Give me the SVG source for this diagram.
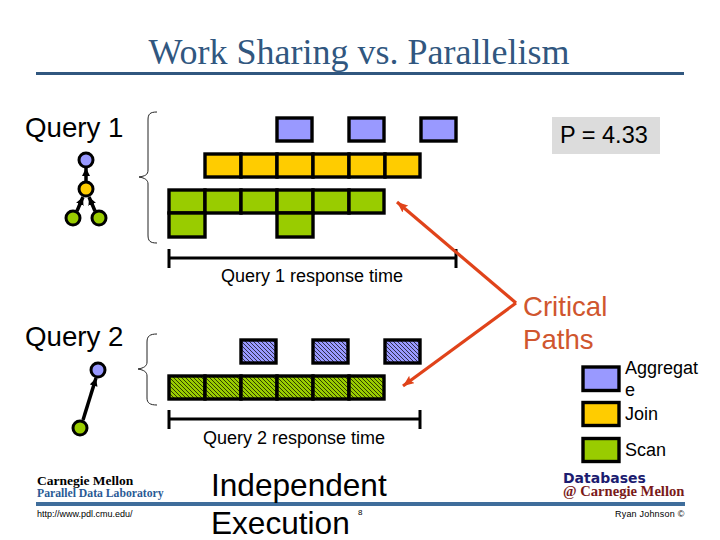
<svg xmlns="http://www.w3.org/2000/svg" width="720" height="540" viewBox="0 0 720 540">
<style>
.s{font-family:"Liberation Sans",Arial,sans-serif}
.k{stroke:#000;stroke-width:3.4}
.b{fill:#9999ff}.y{fill:#ffcc00}.g{fill:#99cc00}
.hb{fill:url(#hb)}.hg{fill:url(#hg)}
.c{stroke:#000;stroke-width:3}
.l{stroke:#000;fill:none;stroke-width:3}
.br{stroke:#222;fill:none;stroke-width:1}
.r{stroke:#e0431a;stroke-width:3.2;fill:none;marker-end:url(#ra)}
.a{stroke:#000;stroke-width:3.5;fill:none;marker-end:url(#ka)}
</style>
<defs>
<pattern id="hb" width="4" height="4" patternUnits="userSpaceOnUse"><rect width="4" height="4" fill="#9999ff"/><path d="M0 0L4 4M-2 2L2 6M2 -2L6 2" stroke="#000" stroke-width=".7" fill="none"/></pattern>
<pattern id="hg" width="4" height="4" patternUnits="userSpaceOnUse"><rect width="4" height="4" fill="#99cc00"/><path d="M0 0L4 4M-2 2L2 6M2 -2L6 2" stroke="#000" stroke-width=".7" fill="none"/></pattern>
<marker id="ra" markerUnits="userSpaceOnUse" markerWidth="12" markerHeight="10" refX="11" refY="4.5" orient="auto"><path d="M0 0L11 4.5L0 9L2 4.5Z" fill="#e0431a"/></marker>
<marker id="ka" markerUnits="userSpaceOnUse" markerWidth="10" markerHeight="10" refX="8" refY="4" orient="auto"><path d="M0 0L8 4L0 8Z" fill="#000"/></marker>
</defs>
<rect width="720" height="540" fill="#fff"/>
<g id="title">
<text x="359" y="64" text-anchor="middle" font-family="Liberation Serif,serif" font-size="36" fill="#31577f">Work Sharing vs. Parallelism</text>
<rect x="36" y="72" width="648" height="3" fill="#31577f"/>
</g>
<g id="connectors">
<path class="a" d="M86 182V168"/>
<path class="a" d="M77 211L83 197"/>
<path class="a" d="M95 211L89 197"/>
<path class="a" d="M83 420L96 378"/>
<path class="br" d="M157 112C150 112 148 114 148 120V170C148 175 145 176 139 177C145 178 148 180 148 184V235C148 241 150 243 157 243"/>
<path class="br" d="M157 334C150 334 147 336 147 342V362C147 366 144 368 138 369C144 370 147 372 147 376V398C147 403 150 405 157 405"/>
<path class="l" d="M169 258H456M169 249V268M456 249V268"/>
<path class="l" d="M169 419H420M169 410V429M420 410V429"/>
<path class="r" d="M516 303L397 202"/>
<path class="r" d="M516 303L403 386"/>
</g>
<g id="query1-graph">
<circle class="b c" cx="86" cy="160" r="7"/>
<circle class="y c" cx="86" cy="189" r="7"/>
<circle class="g c" cx="73" cy="218" r="7"/>
<circle class="g c" cx="99" cy="218" r="7"/>
</g>
<g id="query2-graph">
<circle class="b c" cx="98" cy="370" r="7"/>
<circle class="g c" cx="80" cy="428" r="7"/>
</g>
<g id="query1-bars">
<rect class="b k" x="277" y="118" width="35" height="23"/>
<rect class="b k" x="349" y="118" width="35" height="23"/>
<rect class="b k" x="421" y="118" width="35" height="23"/>
<rect class="y k" x="205" y="154" width="36" height="23"/>
<rect class="y k" x="241" y="154" width="36" height="23"/>
<rect class="y k" x="277" y="154" width="36" height="23"/>
<rect class="y k" x="313" y="154" width="36" height="23"/>
<rect class="y k" x="349" y="154" width="36" height="23"/>
<rect class="y k" x="385" y="154" width="35" height="23"/>
<rect class="g k" x="169" y="190" width="36" height="23"/>
<rect class="g k" x="205" y="190" width="36" height="23"/>
<rect class="g k" x="241" y="190" width="36" height="23"/>
<rect class="g k" x="277" y="190" width="36" height="23"/>
<rect class="g k" x="313" y="190" width="36" height="23"/>
<rect class="g k" x="349" y="190" width="35" height="23"/>
<rect class="g k" x="169" y="213" width="36" height="24"/>
<rect class="g k" x="277" y="213" width="36" height="24"/>
</g>
<g id="query2-bars">
<rect class="hb k" x="241" y="340" width="35" height="23"/>
<rect class="hb k" x="313" y="340" width="35" height="23"/>
<rect class="hb k" x="385" y="340" width="35" height="23"/>
<rect class="hg k" x="169" y="376" width="36" height="23"/>
<rect class="hg k" x="205" y="376" width="36" height="23"/>
<rect class="hg k" x="241" y="376" width="36" height="23"/>
<rect class="hg k" x="277" y="376" width="36" height="23"/>
<rect class="hg k" x="313" y="376" width="36" height="23"/>
<rect class="hg k" x="349" y="376" width="35" height="23"/>
</g>
<g id="labels" class="s">
<text x="25" y="137" font-size="27.7">Query 1</text>
<text x="25" y="346" font-size="27.7">Query 2</text>
<text x="221" y="282" font-size="18">Query 1 response time</text>
<text x="203" y="444" font-size="18">Query 2 response time</text>
</g>
<g id="p-box">
<rect x="552" y="117" width="108" height="37" fill="#dcdcdc"/>
<text class="s" x="560" y="143" font-size="23.5">P = 4.33</text>
</g>
<g id="critical-paths" class="s" fill="#d0562e" font-size="27.6">
<text x="523" y="316">Critical</text>
<text x="523" y="349">Paths</text>
</g>
<g id="legend">
<rect class="b k" x="583" y="367" width="36" height="23.5"/>
<rect class="y k" x="583" y="402.500" width="36" height="23"/>
<rect class="g k" x="583" y="438.500" width="36" height="23"/>
<g class="s" font-size="18">
<text x="625" y="374">Aggregat</text>
<text x="625" y="396">e</text>
<text x="625" y="420">Join</text>
<text x="625" y="456">Scan</text>
</g>
</g>
<g id="footer">
<rect x="36" y="502" width="649" height="4" fill="#3f6d9b"/>
<text x="37" y="485" font-family="Liberation Serif,serif" font-weight="700" font-size="13.500" fill="#000">Carnegie Mellon</text>
<text x="37" y="497" font-family="Liberation Serif,serif" font-weight="700" font-size="11.700" fill="#2a5a95">Parallel Data Laboratory</text>
<text class="s" x="37" y="516.500" font-size="9">http://www.pdl.cmu.edu/</text>
<text class="s" x="211" y="496" font-size="31.600">Independent</text>
<text class="s" x="211" y="534" font-size="31.600">Execution</text>
<text x="358" y="515" class="s" font-size="8">8</text>
<text x="563" y="483" font-family="DejaVu Sans,sans-serif" font-size="14" font-weight="700" fill="#1c1c70">Databases</text>
<text x="563" y="496" font-family="Liberation Serif,serif" font-weight="700" font-size="14.600" fill="#7a1a1a">@ Carnegie Mellon</text>
<text class="s" x="615" y="516.500" font-size="9" letter-spacing=".2">Ryan Johnson ©</text>
</g>
</svg>
